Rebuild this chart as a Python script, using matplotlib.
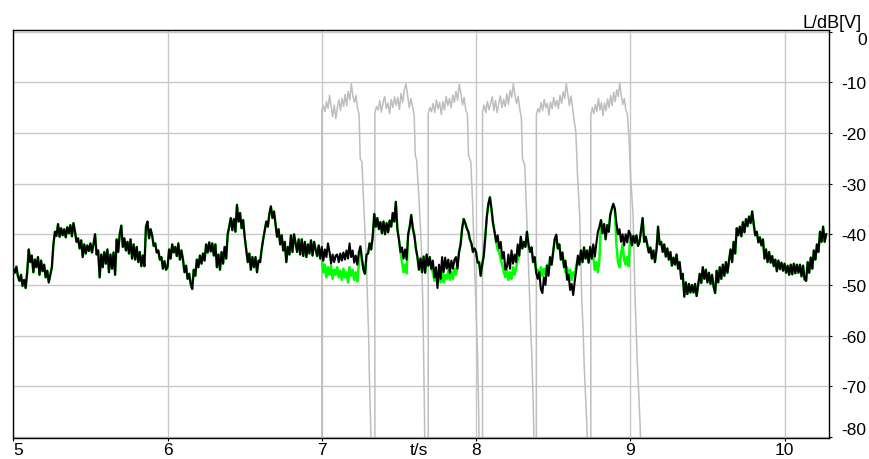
import numpy as np
import matplotlib
matplotlib.use("Agg")
import matplotlib.pyplot as plt

plt.rcParams['font.family'] = ['Liberation Sans', 'DejaVu Sans']

# ---------------- data ----------------
t_start = 5.0          # s, first sample of the level traces
t_step = 0.01          # s, sample spacing

# black trace (dB), one row per 0.1 s from 5.0 s
black_db = [
    -46.8, -47.6, -46.4, -48.3, -49.2, -48.0, -50.2, -49.0, -50.6, -47.5,
    -43.0, -45.5, -44.2, -47.5, -45.0, -46.5, -44.5, -48.0, -45.2, -47.3,
    -46.0, -48.5, -47.2, -49.5, -48.0, -46.5, -42.0, -39.5, -40.3, -38.0,
    -40.5, -38.8, -40.2, -39.0, -40.6, -38.6, -39.8, -38.2, -40.4, -37.8,
    -39.5, -41.5, -40.8, -42.8, -41.2, -44.5, -42.0, -43.8, -42.2, -43.3,
    -41.8, -43.6, -42.0, -40.0, -44.0, -43.2, -48.5, -44.0, -46.5, -43.5,
    -45.8, -43.0, -47.5, -44.0, -46.8, -43.6, -48.0, -41.0, -43.5, -40.0,
    -38.3, -42.5, -40.8, -43.2, -41.5, -43.8, -41.0, -44.8, -42.0, -45.0,
    -42.5, -45.5, -43.5, -46.3, -44.2, -46.3, -38.5, -37.5, -40.8, -39.0,
    -40.2, -42.3, -41.8, -43.6, -43.2, -45.0, -44.5, -46.8, -45.3, -47.0,
    -46.5, -43.0, -44.8, -42.0, -43.6, -42.5, -44.3, -41.8, -45.0, -43.2,
    -45.0, -47.5, -46.2, -48.8, -47.8, -49.8, -50.8, -47.0, -48.2, -45.0,
    -46.5, -44.2, -45.8, -43.8, -45.2, -42.0, -43.6, -41.6, -43.4, -41.8,
    -44.2, -42.0, -46.5, -44.0, -47.0, -43.5, -45.8, -42.5, -44.8, -40.0,
    -38.5, -36.8, -39.2, -37.0, -39.5, -34.2, -37.5, -35.8, -38.8, -37.2,
    -40.5, -43.0, -45.5, -43.8, -47.0, -44.5, -46.5, -44.5, -47.5, -45.2,
    -45.5, -43.0, -41.0, -39.2, -37.5, -38.5, -36.0, -34.5, -36.8, -35.5,
    -38.0, -40.5, -39.0, -42.0, -40.2, -43.2, -41.5, -45.5, -42.5, -44.0,
    -40.2, -43.5, -40.0, -41.8, -43.5, -41.0, -44.0, -41.0, -44.3, -41.5,
    -44.5, -42.0, -43.8, -41.2, -44.2, -41.5, -43.0, -44.3, -42.2, -44.8,
    -42.5, -45.2, -43.0, -44.5, -41.8, -43.5, -45.8, -44.0, -45.5, -44.2,
    -44.0, -45.5, -43.8, -45.2, -43.6, -45.0, -43.2, -44.8, -41.8, -44.5,
    -43.2, -45.6, -44.2, -46.0, -43.6, -42.4, -44.8, -47.0, -47.8, -44.0,
    -43.8, -41.8, -43.0, -40.5, -36.0, -38.5, -36.8, -39.0, -37.6, -39.8,
    -37.5, -40.0, -37.8, -39.6, -37.3, -38.5, -35.8, -37.5, -33.6, -39.0,
    -41.0, -43.5, -42.6, -44.8, -43.0, -45.0, -40.0, -38.5, -36.2, -38.8,
    -40.2, -42.8, -44.5, -47.0, -44.8, -47.5, -44.4, -47.6, -44.0, -46.2,
    -44.5, -46.8, -45.2, -48.5, -46.5, -50.6, -46.0, -48.8, -44.5, -47.5,
    -44.6, -46.8, -45.0, -47.6, -45.2, -46.8, -45.0, -44.5, -46.8, -43.5,
    -42.0, -38.8, -37.0, -37.8, -38.8, -39.5, -41.0, -41.8, -43.5, -42.8,
    -43.5, -45.6, -45.5, -48.2, -46.0, -44.2, -40.5, -36.5, -34.0, -32.7,
    -35.0, -37.8, -39.5, -41.5, -40.2, -42.8, -41.5, -44.8, -43.5, -47.0,
    -46.5, -44.0, -46.8, -43.2, -45.8, -44.0, -45.5, -42.0, -44.2, -40.5,
    -42.8, -41.5, -42.5, -39.5, -42.0, -43.5, -42.6, -45.5, -44.5, -47.6,
    -48.8, -47.5, -50.8, -51.6, -48.5, -50.0, -46.2, -48.2, -44.5, -46.0,
    -43.5, -41.0, -40.1, -42.8, -42.0, -45.0, -43.6, -46.5, -45.2, -49.0,
    -48.0, -51.0, -49.8, -52.0, -49.2, -47.0, -44.2, -46.0, -43.2, -45.5,
    -42.6, -44.8, -43.2, -45.6, -42.5, -44.8, -42.0, -44.4, -41.8, -39.5,
    -38.5, -37.2, -39.8, -38.0, -41.0, -38.2, -39.5, -36.2, -35.0, -34.0,
    -35.0, -37.8, -40.0, -39.0, -41.5, -40.0, -42.2, -40.0, -41.6, -39.3,
    -40.0, -42.2, -40.3, -41.7, -40.2, -42.3, -41.5, -39.2, -36.8, -41.5,
    -40.5, -42.0, -43.6, -42.6, -44.8, -43.2, -45.5, -43.0, -38.5, -42.0,
    -41.5, -43.5, -42.0, -44.4, -42.8, -45.0, -43.5, -46.2, -44.6, -46.0,
    -44.0, -46.8, -45.5, -48.8, -47.8, -52.3, -49.5, -51.8, -49.8, -51.5,
    -50.0, -51.5, -49.8, -52.2, -50.0, -47.8, -49.6, -46.5, -48.8, -47.0,
    -49.5, -47.6, -49.8, -48.0, -50.3, -51.6, -47.2, -49.5, -46.5, -48.8,
    -46.0, -48.2, -45.5, -47.6, -45.2, -43.0, -45.5, -41.5, -43.8, -38.8,
    -40.2, -38.5, -40.4, -37.6, -39.6, -37.0, -38.4, -36.5, -37.8, -35.5,
    -38.0, -40.2, -39.5, -41.6, -40.6, -42.2, -41.0, -44.8, -43.0, -45.5,
    -43.5, -45.6, -44.3, -46.3, -45.0, -47.3, -45.2, -46.9, -45.6, -47.2,
    -45.8, -47.6, -46.2, -48.0, -46.0, -47.9, -45.8, -47.7, -46.0, -47.6,
    -46.0, -48.3, -46.2, -48.9, -49.2, -45.5, -47.6, -44.6, -46.8, -43.2,
    -45.0, -42.0, -43.5, -39.5, -41.5, -38.5, -41.5, -40.0,
]

# green trace: equals the black trace except in these stretches (start time, dB values)
green_diff = [
    (7.00, [-44.5, -47.5, -46.0, -48.5, -46.5, -48.0, -46.2, -48.8, -47.0, -48.0,
            -46.5, -48.5, -47.2, -49.0, -46.8, -48.5, -47.5, -49.5, -46.5, -48.2,
            -47.0, -49.0, -47.5, -49.3, -46.0]),
    (7.52, [-45.5, -47.5, -46.0, -47.7]),
    (7.72, [-47.5, -49.2, -47.0, -49.8, -47.5, -49.5, -47.0, -49.5, -48.0, -48.8,
            -47.2, -49.0, -47.4, -48.8, -46.8, -48.0, -45.5]),
    (8.13, [-41.5, -43.0, -43.5, -45.0, -46.0, -47.5, -48.5, -47.0, -49.0, -47.5,
            -48.8, -46.5, -48.0, -46.5, -45.0]),
    (8.40, [-47.0, -48.5, -46.5, -48.2, -46.8, -48.0, -46.0, -47.5]),
    (8.57, [-46.0, -47.5, -46.5, -48.5, -47.0, -49.0, -47.5, -48.0, -46.0, -45.0]),
    (8.76, [-44.5, -47.0, -45.5, -47.5, -45.0]),
    (8.91, [-42.0, -45.5, -46.5, -44.0, -42.0, -45.0, -46.0, -44.5, -46.3]),
]

# gray pulsed trace: (rise time, end of high level), high-level values, fall (t, dB)
pulse_on = [(7.000, 7.242), (7.344, 7.599), (7.690, 7.944),
            (8.042, 8.294), (8.391, 8.636), (8.744, 8.981)]
pulse_high = [
    [-15.5, -14.6, -15.8, -13.8, -15.2, -12.6, -14.8, -16.8, -14.5, -17.2, -15.0, -13.5, -15.6,
     -13.2, -14.8, -12.4, -14.6, -11.8, -13.5, -10.3, -12.8, -14.0, -12.6, -15.2, -16.4],
    [-16.0, -14.8, -15.5, -13.6, -15.9, -14.0, -12.8, -15.2, -14.1, -16.2, -13.4, -15.0, -12.9,
     -14.6, -13.0, -15.4, -12.2, -14.0, -11.5, -10.3, -12.6, -15.0, -13.2, -14.8, -16.6],
    [-16.2, -15.0, -15.8, -14.2, -16.0, -13.5, -15.2, -14.0, -16.4, -13.8, -15.5, -12.8, -14.6,
     -13.2, -15.0, -12.5, -14.0, -11.8, -13.6, -10.4, -12.2, -14.5, -13.0, -15.5, -16.3],
    [-15.8, -14.5, -16.0, -13.8, -15.4, -14.2, -12.9, -15.6, -13.6, -16.0, -14.2, -12.7, -15.0,
     -13.4, -14.8, -12.3, -14.4, -11.6, -13.0, -10.3, -12.5, -14.2, -12.8, -15.3, -17.0],
    [-16.4, -15.2, -15.9, -14.0, -15.6, -13.4, -15.0, -14.2, -16.5, -13.9, -15.2, -13.0, -14.8,
     -13.6, -15.2, -12.6, -14.2, -11.9, -13.2, -10.3, -12.4, -14.6, -12.7, -15.0, -17.5],
    [-16.5, -15.0, -16.2, -14.4, -15.8, -13.2, -15.5, -14.0, -16.6, -14.1, -15.6, -13.3, -15.0,
     -12.6, -14.6, -12.0, -13.8, -11.5, -12.8, -10.2, -12.6, -14.4, -13.2, -15.5, -16.2],
]
pulse_fall_t = [
    [7.249, 7.260, 7.275, 7.290, 7.296, 7.303, 7.307, 7.311, 7.318, 7.322],
    [7.606, 7.615, 7.630, 7.645, 7.652, 7.657, 7.660, 7.663, 7.666, 7.668],
    [7.951, 7.966, 7.978, 7.988, 7.998, 8.005, 8.010, 8.014, 8.018, 8.020],
    [8.301, 8.316, 8.328, 8.340, 8.355, 8.362, 8.366, 8.370, 8.374, 8.376],
    [8.647, 8.657, 8.672, 8.685, 8.693, 8.701, 8.708, 8.714, 8.719, 8.722],
    [8.992, 9.003, 9.018, 9.031, 9.042, 9.046, 9.052, 9.058, 9.064, 9.068],
]
pulse_fall_db = [
    [-25.1, -25.7, -36.3, -46.0, -52.7, -59.2, -65.8, -71.0, -78.9, -82.0],
    [-24.4, -25.4, -33.0, -42.0, -50.0, -57.0, -63.0, -69.0, -76.0, -82.0],
    [-24.4, -25.7, -34.0, -44.0, -52.7, -59.2, -64.0, -70.0, -76.5, -82.0],
    [-25.1, -26.4, -36.0, -46.0, -59.2, -64.0, -68.5, -72.5, -77.5, -82.0],
    [-19.8, -27.7, -36.3, -52.7, -58.0, -65.8, -70.5, -74.5, -78.0, -82.0],
    [-21.2, -29.0, -36.3, -52.7, -62.5, -65.8, -69.5, -73.5, -78.0, -82.0],
]
off_scale = -100.0

x_ticks = [5, 6, 7, 8, 9, 10]
y_ticks = [0, -10, -20, -30, -40, -50, -60, -70, -80]

# ---------------- build series ----------------
black = np.array(black_db)
t = t_start + t_step * np.arange(len(black))
green = black.copy()
for t0, vals in green_diff:
    i0 = int(round((t0 - t_start) / t_step))
    green[i0:i0 + len(vals)] = vals

gray_t, gray_v = [t_start], [off_scale]
for (t_on, t_off), high, ft, fv in zip(pulse_on, pulse_high, pulse_fall_t, pulse_fall_db):
    gray_t += [t_on]
    gray_v += [off_scale]
    gray_t += list(np.linspace(t_on, t_off, len(high)))
    gray_v += high
    gray_t += ft
    gray_v += fv
    gray_t += [ft[-1] + 0.002]
    gray_v += [off_scale]
gray_t += [t[-1]]
gray_v += [off_scale]

# ---------------- figure ----------------
W, H = 869, 460
fig = plt.figure(figsize=(W / 100, H / 100), dpi=100)
ax = fig.add_axes([13.3 / W, 1 - 438.5 / H, (828.5 - 13.3) / W, (438.5 - 31) / H])

ax.plot(gray_t, gray_v, color='#bebebe', lw=1.1, zorder=2)
ax.plot(t, green, color='#00ff00', lw=1.8, zorder=3)
ax.plot(t, black, color='black', lw=1.5, zorder=4)

ax.set_xlim(5.0, 10.285)
ax.set_ylim(-80.1, 0.3)
ax.grid(True, color='#c8c8c8', lw=1.0, zorder=0)
ax.set_axisbelow(True)

for s in ax.spines.values():
    s.set_color('black')
    s.set_linewidth(1.0)

fs = 12.5
ax.yaxis.tick_right()
ax.set_yticks(y_ticks)
ax.set_yticklabels([str(v) for v in y_ticks], fontsize=fs)
ax.tick_params(axis='y', direction='out', length=2.2, width=0.8, pad=25.2, colors='black')
for lab in ax.get_yticklabels():
    lab.set_horizontalalignment('right')
    if lab.get_text() == '0':
        lab.set_verticalalignment('top')
    elif lab.get_text() == '-80':
        lab.set_verticalalignment('bottom')

ax.set_xticks(x_ticks)
ax.set_xticklabels([str(v) for v in x_ticks], fontsize=fs)
ax.tick_params(axis='x', direction='out', length=2.2, width=0.8, pad=1.0, colors='black')
ax.get_xticklabels()[0].set_horizontalalignment('left')

ax.annotate('t/s', xy=(7.63, 0), xycoords=('data', 'axes fraction'),
            xytext=(0, -3.2), textcoords='offset points',
            ha='center', va='top', fontsize=fs)
fig.text(862 / W, 1 - 28 / H, 'L/dB[V]', ha='right', va='baseline', fontsize=13)

fig.savefig('out.png', dpi=100)
